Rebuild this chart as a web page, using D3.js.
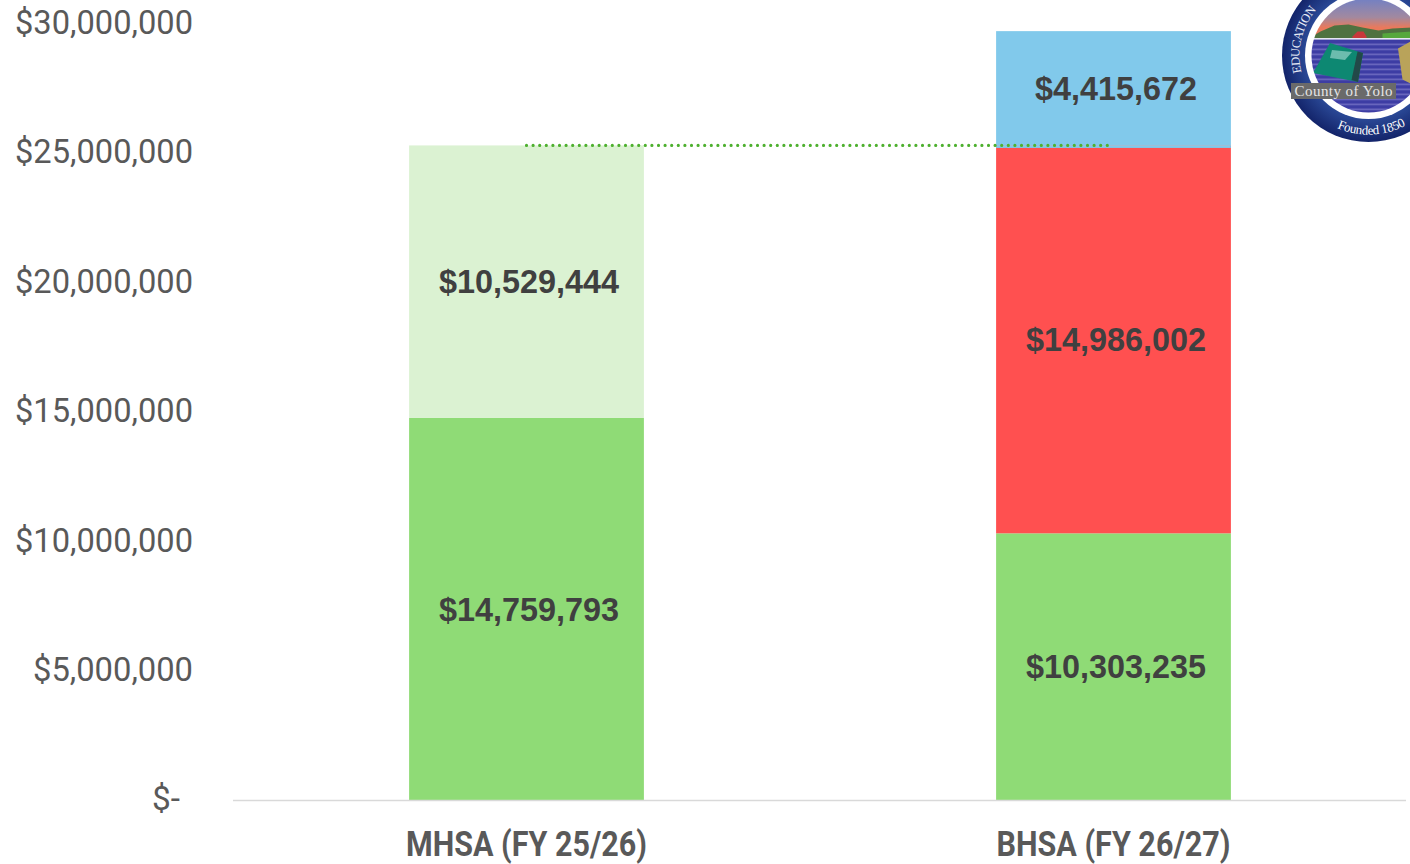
<!DOCTYPE html>
<html><head><meta charset="utf-8">
<script src="https://cdn.jsdelivr.net/npm/d3@7"></script>
<style>html,body{margin:0;padding:0;background:#fff;overflow:hidden}svg{display:block}</style>
</head><body><svg id="c" width="1410" height="864"></svg>
<script>
const categories = ["MHSA (FY 25/26)", "BHSA (FY 26/27)"];
const seriesGreen = [14759793, 10303235];
const seriesLight = [10529444, 0];
const seriesRed = [0, 14986002];
const seriesBlue = [0, 4415672];
const tickValues = [0, 5000000, 10000000, 15000000, 20000000, 25000000, 30000000];
const refLevel = 25289237;
const seriesColors = ["#8fdb76", "#dbf2d2", "#ff5050", "#81c9eb"];

const svg = d3.select("#c");
const y = d3.scaleLinear().domain([0, 30000000]).range([800, 23.5]);
const x = d3.scaleBand().domain(categories).range([233, 1407]).paddingInner(0.6).paddingOuter(0.3);
const money = d3.format("$,");

const rows = categories.map((c, i) => ({c, s0: seriesGreen[i], s1: seriesLight[i], s2: seriesRed[i], s3: seriesBlue[i]}));
const stacked = d3.stack().keys(["s0", "s1", "s2", "s3"])(rows);

const axisFont = "Roboto, sans-serif";
const yAxis = d3.axisLeft(y).tickValues(tickValues).tickSize(0)
  .tickFormat(d => d === 0 ? "$-" : money(d));
const yg = svg.append("g").attr("transform", "translate(193,0)").call(yAxis);
yg.select(".domain").remove();
yg.selectAll("text").attr("font-family", axisFont).attr("font-size", 34).attr("fill", "#595959")
  .attr("x", 0).attr("dy", "0.32em")
  .attr("transform", "translate(0,-1)")
  .attr("textLength", d => d === 0 ? 28 : (d < 10000000 ? 160 : 178))
  .attr("lengthAdjust", "spacingAndGlyphs");
yg.selectAll("text").filter(d => d === 0).attr("x", -13);

stacked.forEach((layer, k) => {
  svg.append("g").selectAll("rect").data(layer.filter(d => d[1] > d[0])).join("rect")
    .attr("x", d => x(d.data.c)).attr("width", x.bandwidth())
    .attr("y", d => y(d[1])).attr("height", d => y(d[0]) - y(d[1]))
    .attr("fill", seriesColors[k]);
});
// the reference's blue segment laps slightly over the top of the red one
svg.append("rect").attr("x", x(categories[1])).attr("width", x.bandwidth())
  .attr("y", y(refLevel)).attr("height", 2.5).attr("fill", seriesColors[3]);

stacked.forEach(layer => {
  svg.append("g").selectAll("text").data(layer.filter(d => d[1] > d[0])).join("text")
    .attr("x", d => x(d.data.c) + x.bandwidth() / 2 + 2.5)
    .attr("y", d => (y(d[0]) + y(d[1])) / 2)
    .attr("dy", "0.35em").attr("text-anchor", "middle")
    .attr("font-family", "'Liberation Sans', sans-serif").attr("font-weight", 700)
    .attr("font-size", 33).attr("fill", "#404040")
    .attr("textLength", d => (d[1] - d[0]) >= 10000000 ? 180 : 162)
    .attr("lengthAdjust", "spacingAndGlyphs")
    .text(d => money(d[1] - d[0]));
});

// baseline
svg.append("line").attr("x1", 233).attr("x2", 1406).attr("y1", y(0) + 0.5).attr("y2", y(0) + 0.5)
  .attr("stroke", "#d9d9d9").attr("stroke-width", 1.5);

// connector
svg.append("line")
  .attr("x1", x(categories[0]) + x.bandwidth() / 2).attr("x2", x(categories[1]) + x.bandwidth() / 2 - 5)
  .attr("y1", y(refLevel)).attr("y2", y(refLevel))
  .attr("stroke", "#4eb02f").attr("stroke-width", 3.2)
  .attr("stroke-dasharray", "0 6.6").attr("stroke-linecap", "round");

// category labels
const labelWidth = {[categories[0]]: 241, [categories[1]]: 234};
svg.append("g").selectAll("text").data(categories).join("text")
  .attr("x", d => x(d) + x.bandwidth() / 2).attr("y", 856)
  .attr("text-anchor", "middle").attr("font-family", axisFont).attr("font-weight", 700)
  .attr("font-size", 35).attr("fill", "#595959")
  .attr("textLength", d => labelWidth[d]).attr("lengthAdjust", "spacingAndGlyphs")
  .text(d => d);

// seal
const seal = svg.append("g").attr("transform", "translate(1368.5,55.5)");
const defs = svg.append("defs");
const rg = defs.append("radialGradient").attr("id", "ring");
rg.append("stop").attr("offset", "72%").attr("stop-color", "#2b4a98");
rg.append("stop").attr("offset", "100%").attr("stop-color", "#13246a");
const sk = defs.append("linearGradient").attr("id", "sky").attr("gradientUnits", "userSpaceOnUse")
  .attr("x1", 0).attr("x2", 0).attr("y1", -57).attr("y2", -28);
sk.append("stop").attr("offset", "0%").attr("stop-color", "#7280c4");
sk.append("stop").attr("offset", "65%").attr("stop-color", "#a2899f");
sk.append("stop").attr("offset", "100%").attr("stop-color", "#e9795c");
defs.append("clipPath").attr("id", "inner").append("circle").attr("r", 57);
defs.append("filter").attr("id", "soft").append("feGaussianBlur").attr("stdDeviation", 0.5);
seal.append("circle").attr("r", 86.5).attr("fill", "url(#ring)");
seal.append("circle").attr("r", 63.5).attr("fill", "#fff");
const scene = seal.append("g").attr("clip-path", "url(#inner)").attr("filter", "url(#soft)");
scene.append("rect").attr("x", -60).attr("y", -60).attr("width", 120).attr("height", 50).attr("fill", "url(#sky)");
scene.append("path").attr("d", "M-60,-17 L-48,-24 L-34,-30 L-20,-31 L-6,-28 L10,-25 L24,-27 L60,-29 L60,-17Z").attr("fill", "#4f7240");
scene.append("path").attr("d", "M14,-22 L60,-25 L60,-17 L14,-17Z").attr("fill", "#56a83e");
scene.append("path").attr("d", "M-16,-19 L-11,-24 L-5,-24 L-2,-19 L-2,-17 L-16,-17Z").attr("fill", "#c8383a");
scene.append("rect").attr("x", -60).attr("y", -17.5).attr("width", 120).attr("height", 80).attr("fill", "#3d3da4");
scene.append("rect").attr("x", -60).attr("y", -17.5).attr("width", 120).attr("height", 1.6).attr("fill", "#e6e6f2");
d3.range(-12, 60, 5).forEach(v => {
  scene.append("rect").attr("x", -60).attr("y", v).attr("width", 120).attr("height", 1.8).attr("fill", "#7a78c8").attr("opacity", 0.7);
});
scene.append("path").attr("d", "M-38.5,-12.5 L-5.5,-2.5 L-10.5,26.5 L-55.5,17.5 Z").attr("fill", "#0f8872");
scene.append("path").attr("d", "M-5.5,-2.5 L-11,-4 L-17,24.5 L-10.5,26.5 Z").attr("fill", "#234a48");
scene.append("path").attr("d", "M-36.5,-5.5 L-16.5,-3.5 L-23.5,4.5 L-38.5,2.5 Z").attr("fill", "#6cbcae");
scene.append("path").attr("d", "M29.5,-7 L42,-14 L42,28 L34,24 Z").attr("fill", "#b9a35a");
seal.append("rect").attr("x", -77.5).attr("y", 27.5).attr("width", 105).attr("height", 16).attr("fill", "#6a6a6a");
seal.append("text").attr("x", -25).attr("y", 40).attr("text-anchor", "middle")
  .attr("font-family", "'Liberation Serif', serif").attr("font-size", 15).attr("fill", "#e6e6e6")
  .attr("textLength", 98).text("County of Yolo");
defs.append("path").attr("id", "arcTop").attr("d", "M-66.9,17 A69,69 0 0 1 -35,-59.5");
defs.append("path").attr("id", "arcBot").attr("d", "M-31.5,72.5 A79,79 0 0 0 39,69");
seal.append("text").attr("font-family", "'Liberation Serif', serif").attr("font-size", 12.5).attr("fill", "#e8ecf6")
  .append("textPath").attr("href", "#arcTop").attr("textLength", 67).text("EDUCATION");
seal.append("text").attr("font-family", "'Liberation Serif', serif").attr("font-size", 13).attr("fill", "#fff")
  .append("textPath").attr("href", "#arcBot").attr("textLength", 71).text("Founded 1850");
</script></body></html>
